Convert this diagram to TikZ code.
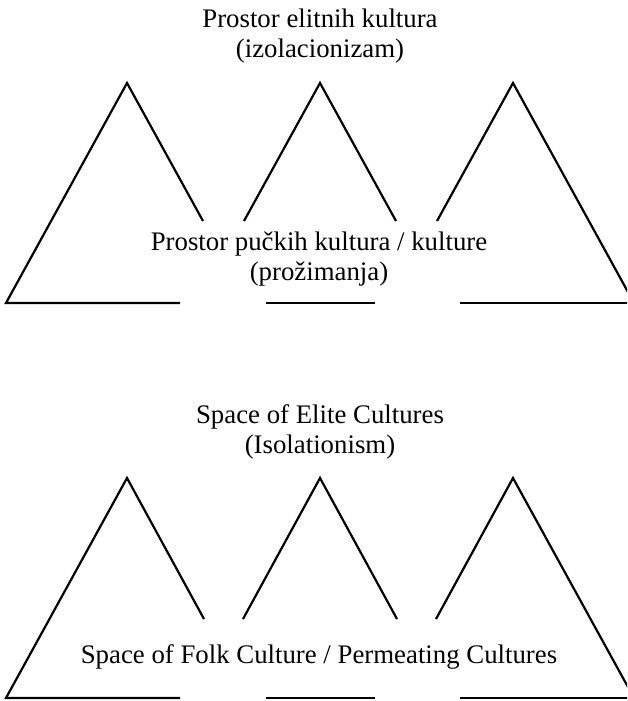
\documentclass[tikz,border=0pt]{standalone}
\usepackage{fontspec}
\setmainfont{Liberation Serif}
\tikzset{
  lbl/.style={anchor=base, inner sep=0pt, font=\fontsize{26.8}{30}\selectfont},
  edge/.style={line width=2.2pt, line join=miter, line cap=butt},
}
\begin{document}
\begin{tikzpicture}[x=1pt,y=-1pt]
\useasboundingbox (0,0) rectangle (627,701);
\clip (0,0) rectangle (627,701);
% ---------- upper diagram ----------
\node[lbl] (t1a) at (320,28) {Prostor elitnih kultura};
\node[lbl] (t1b) at (320,58) {(izolacionizam)};
\node[lbl] (f1a) at (319,250) {Prostor pučkih kultura / kulture};
\node[lbl] (f1b) at (319,280) {(prožimanja)};
% left triangle
\draw[edge] (203,221) -- (127,83) -- (6,303) -- (180,303);
% middle triangle
\draw[edge] (244,221) -- (320,83) -- (396,221);
\draw[edge] (266,303) -- (375,303);
% right triangle
\draw[edge] (437,221) -- (513,83) -- (634,303);
\draw[edge] (460,303) -- (640,303);
% ---------- lower diagram ----------
\node[lbl] (t2a) at (320,423) {Space of Elite Cultures};
\node[lbl] (t2b) at (320,453) {(Isolationism)};
\node[lbl] (f2a) at (319,663) {Space of Folk Culture / Permeating Cultures};
% left triangle
\draw[edge] (204,619) -- (127,478) -- (6,698) -- (180,698);
% middle triangle
\draw[edge] (243,619) -- (320,478) -- (397,619);
\draw[edge] (266,698) -- (375,698);
% right triangle
\draw[edge] (436,619) -- (513,478) -- (634,698);
\draw[edge] (460,698) -- (640,698);
\end{tikzpicture}
\end{document}
